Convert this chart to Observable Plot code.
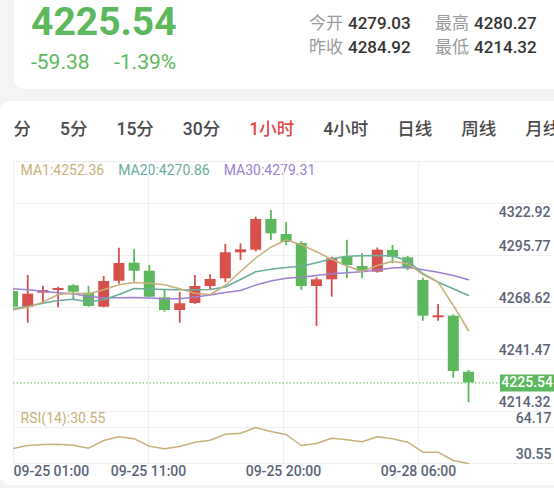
<!DOCTYPE html>
<html><head><meta charset="utf-8">
<script src="https://cdn.jsdelivr.net/npm/d3@7"></script>
<script src="https://cdn.jsdelivr.net/npm/@observablehq/plot@0.6"></script>
<style>
html,body{margin:0;padding:0;}
body{width:554px;height:488px;overflow:hidden;background:#f4f4f4;position:relative;font-family:Roboto,"Noto Sans CJK SC",sans-serif;}
.t{position:absolute;white-space:nowrap;line-height:1;}
#card1{position:absolute;left:14px;top:-12px;width:560px;height:101px;background:#fff;border-radius:10px;}
#card2{position:absolute;left:0;top:101px;width:570px;height:384px;background:#fff;border-radius:10px;}
.layer{position:absolute;}
#sep{position:absolute;left:13px;top:161px;width:541px;height:1px;background:#eeeeee;}
#tabs{position:absolute;left:13.5px;display:flex;gap:29px;font-size:17.5px;color:#4a4a4a;line-height:1;white-space:nowrap;font-weight:500;}
#ma{position:absolute;left:20.6px;display:flex;gap:14px;font-size:14px;line-height:1;white-space:nowrap;}
</style></head><body>
<div id="card1"></div><div id="card2"></div><div id="sep"></div>
<div id="root"></div>
<script>
// ---------- data ----------
const lastPrice = 4225.54;
const change = ["-59.38", "-1.39%"];
const statLabels = ["今开", "最高", "昨收", "最低"];
const statValues = ["4279.03", "4280.27", "4284.92", "4214.32"];
const tabLabels = ["分", "5分", "15分", "30分", "1小时", "4小时", "日线", "周线", "月线"];
const activeTab = "1小时";
const maLegend = ["MA1:4252.36", "MA20:4270.86", "MA30:4279.31"];
const rsiLegend = "RSI(14):30.55";

const opens  = [4277.18,4268.31,4276.22,4277.74,4280.39,4276.22,4268.31,4282.99,4293.16,4288.64,4273.62,4266.44,4270.40,4280.00,4284.35,4299.03,4300.50,4317.84,4309.37,4304.28,4280.00,4283.78,4296.55,4291.29,4288.08,4300.33,4296.21,4283.39,4262.32,4263.23,4231.60];
const highs  = [4279.50,4286.21,4280.17,4279.60,4280.96,4280.00,4285.65,4301.63,4300.73,4291.86,4278.02,4276.61,4286.21,4286.61,4303.89,4304.11,4319.14,4322.92,4316.14,4305.41,4284.91,4296.55,4306.15,4298.47,4301.74,4303.15,4296.94,4284.69,4269.83,4264.02,4232.56];
const lows   = [4266.90,4259.27,4270.23,4267.97,4272.09,4268.31,4267.97,4281.30,4282.50,4273.79,4265.49,4259.27,4269.83,4277.74,4282.26,4294.68,4299.48,4305.98,4302.98,4277.74,4257.41,4273.96,4284.35,4284.35,4287.51,4292.82,4289.03,4260.40,4260.40,4228.21,4214.32];
const closes = [4268.31,4275.65,4277.74,4278.87,4276.78,4268.70,4282.82,4292.99,4288.64,4273.96,4266.44,4270.23,4280.00,4283.95,4299.03,4300.73,4317.84,4309.76,4304.85,4280.00,4283.78,4295.64,4291.86,4288.47,4300.50,4296.55,4290.00,4263.23,4263.45,4232.00,4225.54];

const ma1  = [4266.84,4268.31,4271.13,4275.48,4276.22,4275.88,4278.14,4280.96,4282.26,4281.86,4281.00,4278.70,4276.22,4275.48,4280.56,4288.47,4296.09,4302.19,4306.37,4303.61,4299.65,4295.36,4291.58,4288.47,4291.86,4294.29,4292.82,4286.78,4282.43,4269.27,4255.15];
const ma20 = [4267.41,4268.70,4270.57,4272.09,4272.83,4271.25,4272.49,4275.48,4278.87,4278.59,4278.30,4278.14,4278.20,4278.30,4279.72,4283.95,4288.36,4289.71,4290.73,4291.41,4293.44,4295.64,4297.05,4297.40,4297.51,4297.20,4294.68,4287.34,4282.43,4278.70,4274.92];
const ma30 = [4278.70,4278.14,4277.34,4276.44,4275.88,4274.35,4273.62,4273.62,4273.79,4273.50,4273.05,4273.05,4274.07,4275.14,4276.61,4277.74,4280.80,4283.11,4284.69,4285.25,4286.21,4287.17,4287.79,4288.36,4289.32,4290.45,4290.90,4289.43,4288.08,4286.21,4283.78];

const rsi = [44.56,47.36,48.29,48.57,47.64,44.84,52.03,55.48,53.62,46.71,44.28,46.43,50.44,52.31,57.91,58.85,64.17,60.43,57.63,47.36,49.23,54.18,52.68,50.82,55.48,53.62,50.44,41.10,41.10,33.35,30.55];

const priceTicks = [4322.92, 4295.77, 4268.62, 4241.47, 4214.32];
const rsiTicks = [64.17, 30.55];
const xTickLabels = ["09-25 01:00", "09-25 11:00", "09-25 20:00", "09-28 06:00"];

// ---------- style ----------
const RED = "#d6504c", GREEN = "#5cb85c", TAN = "#c8b07a", TEAL = "#6aac9e", PURPLE = "#9d80d2";
const GRID = "#f0f0f0", AXIS = "#5a6376";
const fmt = d3.format(".2f");
const root = document.getElementById("root");

function txt(s, x, base, size, color, weight) {
  const el = document.createElement("div");
  el.className = "t";
  el.textContent = s;
  el.style.left = x + "px";
  el.style.top = (base - 0.842 * size) + "px";
  el.style.fontSize = size + "px";
  el.style.color = color;
  if (weight) el.style.fontWeight = weight;
  root.appendChild(el);
}

// header
txt(fmt(lastPrice), 31, 36, 39, GREEN, "bold");
txt(change[0], 31, 70, 21, GREEN);
txt(change[1], 114, 70, 21, GREEN);
const statX = [[309, 348], [435, 474]];
const statBase = [29.5, 53.5];
statLabels.forEach((l, k) => {
  const r = Math.floor(k / 2), c = k % 2;
  txt(l, statX[c][0], statBase[r], 17, "#9a9a9a");
  txt(statValues[k], statX[c][1], statBase[r], 17, "#333333", 500);
});

// tabs
const tabs = document.createElement("div");
tabs.id = "tabs";
tabs.style.top = (136 - 0.842 * 17.5) + "px";
tabLabels.forEach(l => {
  const s = document.createElement("span");
  s.textContent = l;
  if (l === activeTab) s.style.color = "#e04848";
  tabs.appendChild(s);
});
root.appendChild(tabs);

// MA legend
const ma = document.createElement("div");
ma.id = "ma";
ma.style.top = (175 - 0.842 * 14) + "px";
[TAN, TEAL, PURPLE].forEach((c, k) => {
  const s = document.createElement("span");
  s.textContent = maLegend[k];
  s.style.color = c;
  ma.appendChild(s);
});
root.appendChild(ma);
txt(rsiLegend, 20.6, 423, 14, TAN);

// ---------- charts ----------
function place(svg, left, top) {
  const d = document.createElement("div");
  d.className = "layer";
  d.style.left = left + "px";
  d.style.top = top + "px";
  d.appendChild(svg);
  root.appendChild(d);
}
const baseStyle = {background: "transparent", fontFamily: "Roboto, sans-serif", fontSize: "14px", overflow: "visible"};
const priceDomain = [priceTicks[priceTicks.length - 1], priceTicks[0]];
const candles = closes.map((c, i) => ({i, open: opens[i], high: highs[i], low: lows[i], close: c}));
const up = candles.filter(d => d.close >= d.open);
const down = candles.filter(d => d.close < d.open);
const xIdx = {type: "linear", domain: [0, 35], range: [12, 544], axis: null};

// grid / axis layer (fixed pane grid: 4 columns, 4 rows)
const gridLayer = Plot.plot({
  width: 554, height: 324, marginLeft: 13, marginRight: 1, marginTop: 0, marginBottom: 22,
  style: baseStyle,
  x: {type: "linear", domain: [0, 4], range: [13, 553], axis: null},
  y: {domain: priceDomain, range: [250, 42], axis: null},
  marks: [
    Plot.ruleX(d3.range(xTickLabels.length), {stroke: GRID}),
    Plot.ruleY(priceTicks, {stroke: GRID}),
    Plot.text(priceTicks.slice(0, 1), {y: d => d, text: fmt, frameAnchor: "right", textAnchor: "end", dx: -3, dy: 9, fill: AXIS, fontSize: 14, fontWeight: 500}),
    Plot.text(priceTicks.slice(1), {y: d => d, text: fmt, frameAnchor: "right", textAnchor: "end", dx: -3, dy: -9, fill: AXIS, fontSize: 14, fontWeight: 500}),
    Plot.text(xTickLabels.slice(0, 1), {x: (d, i) => i, text: d => d, frameAnchor: "bottom", textAnchor: "start", dy: 12, fill: AXIS, fontSize: 14, fontWeight: 500}),
    Plot.text(xTickLabels.slice(1), {x: (d, i) => i + 1, text: d => d, frameAnchor: "bottom", textAnchor: "middle", dy: 12, fill: AXIS, fontSize: 14, fontWeight: 500})
  ]
});
place(gridLayer, 0, 161);

// candles + MAs
const candlePlot = Plot.plot({
  width: 554, height: 250, marginLeft: 13, marginRight: 0, marginTop: 0, marginBottom: 0,
  style: baseStyle,
  x: xIdx,
  y: {domain: priceDomain, range: [241.3, 49], axis: null},
  marks: [
    Plot.ruleY([lastPrice], {stroke: GREEN, strokeWidth: 1, strokeDasharray: "1.5,2", clip: true}),
    Plot.ruleX(up, {x: "i", y1: "low", y2: "high", stroke: RED, strokeWidth: 1.8, clip: true}),
    Plot.ruleX(up, {x: "i", y1: "open", y2: "close", stroke: RED, strokeWidth: 11, clip: true}),
    Plot.ruleX(down, {x: "i", y1: "low", y2: "high", stroke: GREEN, strokeWidth: 1.8, clip: true}),
    Plot.ruleX(down, {x: "i", y1: "open", y2: "close", stroke: GREEN, strokeWidth: 11, clip: true}),
    Plot.line(ma30, {x: (d, i) => i, y: d => d, stroke: PURPLE, strokeWidth: 1.5, clip: true}),
    Plot.line(ma20, {x: (d, i) => i, y: d => d, stroke: TEAL, strokeWidth: 1.5, clip: true}),
    Plot.line(ma1, {x: (d, i) => i, y: d => d, stroke: TAN, strokeWidth: 1.5, clip: true})
  ]
});
place(candlePlot, 0, 161);

// last price tag
const tagPlot = Plot.plot({
  width: 54, height: 250, margin: 0,
  style: baseStyle,
  y: {domain: priceDomain, range: [241.3, 49], axis: null},
  marks: [
    Plot.ruleY([lastPrice], {stroke: GREEN, strokeWidth: 17}),
    Plot.text([lastPrice], {y: d => d, text: fmt, frameAnchor: "right", textAnchor: "end", dx: -1.5, fill: "white", fontSize: 14, fontWeight: 500})
  ]
});
place(tagPlot, 500, 161);

// RSI
const rsiPlot = Plot.plot({
  width: 554, height: 74, marginLeft: 13, marginRight: 0, marginTop: 0, marginBottom: 0,
  style: baseStyle,
  x: xIdx,
  y: {domain: [rsiTicks[1], rsiTicks[0]], range: [52, 16], axis: null},
  marks: [
    Plot.ruleY(rsiTicks, {stroke: GRID}),
    Plot.text(rsiTicks, {y: d => d, text: fmt, frameAnchor: "right", textAnchor: "end", dx: -3, dy: -9, fill: AXIS, fontSize: 14, fontWeight: 500}),
    Plot.line(rsi, {x: (d, i) => i, y: d => d, stroke: TAN, strokeWidth: 1.5, clip: true})
  ]
});
place(rsiPlot, 0, 411);
</script></body></html>
